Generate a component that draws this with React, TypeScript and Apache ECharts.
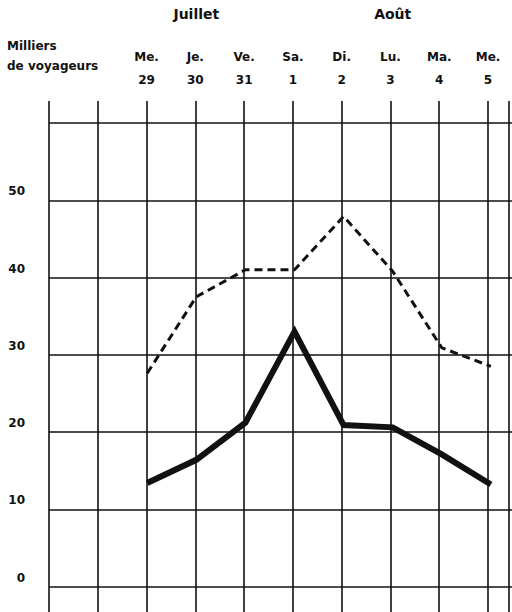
import React, { useEffect, useRef } from "react";
import * as echarts from "echarts";

// Day columns (two blank columns precede the first day)
const dayNames = ["Me.", "Je.", "Ve.", "Sa.", "Di.", "Lu.", "Ma.", "Me."];
const dayNums = ["29", "30", "31", "1", "2", "3", "4", "5"];
const blankColumns = 2;
// Thousands of travellers
const solidValues = [13.4, 16.4, 21.2, 33.0, 20.9, 20.6, 17.1, 13.2];
const dashedValues = [27.6, 37.5, 41.0, 41.0, 47.9, 40.8, 30.9, 28.5];
const yTicks = [0, 10, 20, 30, 40, 50, 60];
const monthLabels = [
  { text: "Juillet", col: 3 },
  { text: "Août", col: 7 },
];
const unitLines = ["Milliers", "de voyageurs"];

const FONT = "DejaVu Sans";

export default function App() {
  const ref = useRef<HTMLDivElement>(null);
  useEffect(() => {
    if (!ref.current) return;
    const chart = echarts.init(ref.current, undefined, { renderer: "svg" });
    const xMax = 9.43;
    const xLeft = 49;
    const plotW = 512 - xLeft;
    const colX = (c: number) => xLeft + (c * plotW) / xMax;
    const toPts = (vals: number[]) => vals.map((v, i) => [i + blankColumns, v]);
    const lineColor = "#111";
    chart.setOption({
      animation: false,
      backgroundColor: "#fff",
      grid: [
        { left: xLeft, right: 0, top: 123, bottom: 25.5 },
        { left: xLeft, right: 0, top: 101, bottom: 0 },
      ],
      xAxis: [
        {
          gridIndex: 0,
          type: "value",
          min: 0,
          max: xMax,
          interval: 1,
          axisLine: { show: false },
          axisTick: { show: false },
          axisLabel: { show: false },
          splitLine: { show: false },
        },
        {
          gridIndex: 1,
          type: "value",
          position: "top",
          min: 0,
          max: xMax,
          interval: 1,
          axisLine: { show: false },
          axisTick: { show: false },
          splitLine: { show: true, lineStyle: { color: lineColor, width: 1.6 } },
          axisLabel: {
            margin: 10,
            fontFamily: FONT,
            fontWeight: "bold",
            fontSize: 12,
            color: "#111",
            lineHeight: 23,
            align: "center",
            formatter: (v: number) => {
              const i = Math.round(v) - blankColumns;
              if (Math.abs(v - Math.round(v)) > 1e-6 || i < 0 || i >= dayNames.length) return "";
              return dayNames[i] + "\n" + dayNums[i];
            },
          },
        },
      ],
      yAxis: [
        {
          gridIndex: 0,
          type: "value",
          min: yTicks[0],
          max: yTicks[yTicks.length - 1],
          interval: 10,
          axisLine: { show: false },
          axisTick: { show: false },
          splitLine: { show: true, lineStyle: { color: lineColor, width: 1.6 } },
          axisLabel: {
            margin: 24,
            fontFamily: FONT,
            fontWeight: "bold",
            fontSize: 12,
            color: "#111",
            verticalAlign: "bottom",
            padding: [0, 0, 3, 0],
            formatter: (v: number) => (v === yTicks[yTicks.length - 1] ? "" : String(v)),
          },
        },
        {
          gridIndex: 1,
          type: "value",
          min: 0,
          max: 1,
          show: false,
          splitLine: { show: false },
        },
      ],
      graphic: [
        ...monthLabels.map((m) => ({
          type: "text",
          x: colX(m.col),
          y: 14,
          style: {
            text: m.text,
            fontFamily: FONT,
            fontWeight: "bold",
            fontSize: 14,
            fill: "#111",
            align: "center",
            verticalAlign: "middle",
          },
        })),
        ...unitLines.map((t, i) => ({
          type: "text",
          x: 7,
          y: 46 + i * 20,
          style: {
            text: t,
            fontFamily: FONT,
            fontWeight: "bold",
            fontSize: 12,
            fill: "#111",
            align: "left",
            verticalAlign: "middle",
          },
        })),
      ],
      series: [
        {
          type: "line",
          xAxisIndex: 0,
          yAxisIndex: 0,
          data: toPts(dashedValues),
          symbol: "none",
          lineStyle: { color: lineColor, width: 3, type: [8, 5] },
        },
        {
          type: "line",
          xAxisIndex: 0,
          yAxisIndex: 0,
          data: toPts(solidValues),
          symbol: "none",
          lineStyle: { color: lineColor, width: 6, join: "miter" },
        },
      ],
    });
    return () => chart.dispose();
  }, []);
  return (
    <div
      ref={ref}
      style={{ position: "fixed", left: 0, top: 0, width: 512, height: 612, background: "#fff" }}
    />
  );
}
